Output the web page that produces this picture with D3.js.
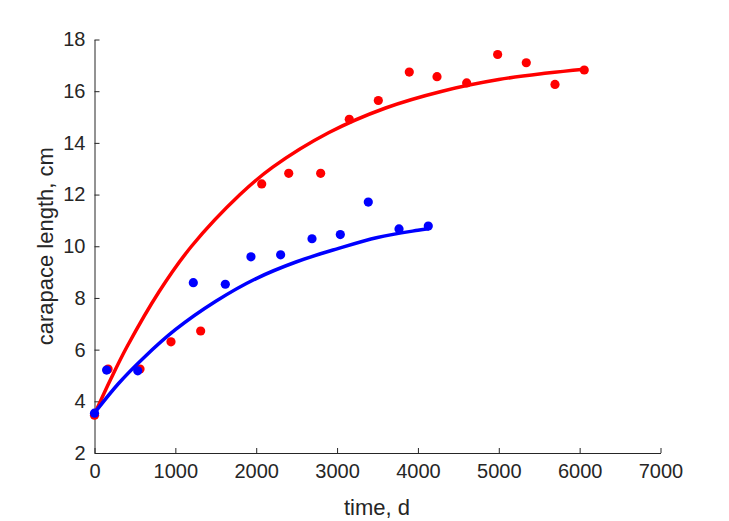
<!DOCTYPE html>
<html><head><meta charset="utf-8">
<script src="https://cdn.jsdelivr.net/npm/d3@7"></script>
<style>body{margin:0;background:#fff}svg{display:block}text{font-family:"Liberation Sans",Arial,sans-serif}</style>
</head><body>
<script>
// measured data points
const redT = [0, 168, 563, 946, 1313, 2068, 2402, 2797, 3151, 3510, 3893, 4236, 4603, 4986, 5340, 5695, 6057];
const redL = [3.46, 5.25, 5.25, 6.30, 6.72, 12.41, 12.82, 12.82, 14.91, 15.64, 16.74, 16.56, 16.32, 17.42, 17.10, 16.26, 16.82];
const blueT = [0, 150, 535, 1222, 1618, 1935, 2302, 2690, 3040, 3386, 3766, 4128];
const blueL = [3.54, 5.21, 5.18, 8.59, 8.53, 9.59, 9.67, 10.29, 10.45, 11.71, 10.67, 10.78];
// fitted curves
const redFitT = [0, 200, 400, 800, 1200, 1800, 2200, 2900, 3600, 4300, 5000, 5600, 6057];
const redFitL = [3.5, 4.85, 6.1, 8.25, 10.0, 12.0, 13.05, 14.4, 15.35, 16.0, 16.45, 16.7, 16.85];
const blueFitT = [0, 300, 600, 1000, 1500, 2000, 2500, 3000, 3500, 4000, 4128];
const blueFitL = [3.55, 4.7, 5.66, 6.77, 7.87, 8.75, 9.4, 9.9, 10.34, 10.62, 10.68];
const xTicks = [0, 1000, 2000, 3000, 4000, 5000, 6000, 7000];
const yTicks = [2, 4, 6, 8, 10, 12, 14, 16, 18];

const W = 729, H = 521;
const svg = d3.select("body").append("svg").attr("width", W).attr("height", H);
const x = d3.scaleLinear().domain([0, 7000]).range([94.5, 660.5]);
const y = d3.scaleLinear().domain([2, 18]).range([453, 39.5]);
const axisCol = "#262626";

const gx = svg.append("g").attr("transform", `translate(0,${y(2)})`)
  .call(d3.axisBottom(x).tickValues(xTicks).tickFormat(d3.format("d")).tickSizeInner(-5).tickSizeOuter(0).tickPadding(11));
const gy = svg.append("g").attr("transform", `translate(${x(0)},0)`)
  .call(d3.axisLeft(y).tickValues(yTicks).tickFormat(d3.format("d")).tickSizeInner(-5).tickSizeOuter(0).tickPadding(9));
[gx, gy].forEach(g => {
  g.selectAll("path").attr("stroke", axisCol).attr("stroke-width", 1);
  g.selectAll("line").attr("stroke", axisCol).attr("stroke-width", 1);
  g.selectAll("text").attr("fill", axisCol).style("font-size", "20px").style("font-family", '"Liberation Sans",Arial,sans-serif');
});

svg.append("text").attr("x", 377).attr("y", 515).attr("text-anchor", "middle")
  .attr("fill", axisCol).style("font-size", "22px").text("time, d");
svg.append("text").attr("transform", `translate(53,${(y(2)+y(18))/2}) rotate(-90)`).attr("text-anchor", "middle")
  .attr("fill", axisCol).style("font-size", "22px").text("carapace length, cm");

const line = d3.line().x(d => x(d[0])).y(d => y(d[1])).curve(d3.curveCatmullRom);

function series(T, L, FT, FL, col) {
  svg.append("g").selectAll("circle").data(T.map((t, i) => [t, L[i]])).join("circle")
    .attr("cx", d => x(d[0])).attr("cy", d => y(d[1])).attr("r", 4.6).attr("fill", col);
  svg.append("path").datum(FT.map((t, i) => [t, FL[i]])).attr("d", line)
    .attr("fill", "none").attr("stroke", col).attr("stroke-width", 3.5).attr("stroke-linecap", "round");
}
series(redT, redL, redFitT, redFitL, "#ff0000");
series(blueT, blueL, blueFitT, blueFitL, "#0000ff");
</script>
</body></html>
